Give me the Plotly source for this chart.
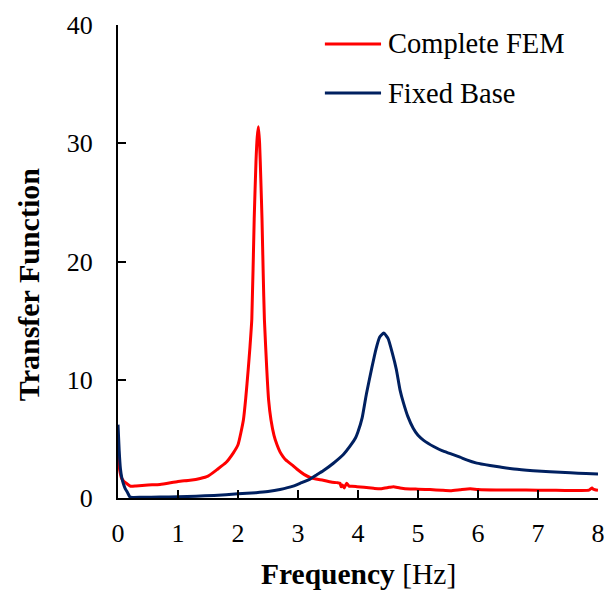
import plotly.graph_objects as go

# ---- data ----
series_names = ["Complete FEM", "Fixed Base"]
series_colors = ["#FF0000", "#002060"]

fem_freq = [0, 0.03, 0.06, 0.1, 0.15, 0.21, 0.3, 0.5, 0.7, 1.0, 1.2, 1.37, 1.5, 1.65, 1.8, 1.92,
            2.0, 2.09, 2.13, 2.17, 2.2, 2.23, 2.27, 2.3, 2.32, 2.34, 2.36, 2.38, 2.40, 2.42, 2.44,
            2.48, 2.51, 2.55, 2.6, 2.65, 2.70, 2.75, 2.8, 2.9, 2.98, 3.1, 3.2, 3.3, 3.42, 3.55, 3.65,
            3.70, 3.72, 3.74, 3.77, 3.81, 3.85, 3.9, 3.98, 4.1, 4.26, 4.37, 4.45, 4.52, 4.59,
            4.7, 4.87, 5.0, 5.2, 5.4, 5.54, 5.7, 5.87, 6.0, 6.3, 6.6, 7.0, 7.3, 7.6, 7.85, 7.9,
            7.92, 7.95, 8.0]
fem_tf = [3.5, 2.3, 1.67, 1.4, 1.2, 1.0, 1.02, 1.1, 1.15, 1.4, 1.5, 1.65, 1.85, 2.4, 3.0, 3.8,
          4.5, 6.6, 8.5, 10.85, 12.8, 15.1, 23.6, 28.5, 30.5, 31.4, 30.0, 27.0, 23.6, 19.0, 15.1,
          10.85, 8.3, 6.6, 5.3, 4.5, 3.9, 3.5, 3.2, 2.8, 2.45, 2.0, 1.75, 1.6, 1.5, 1.35, 1.3,
          1.25, 0.95, 1.1, 0.85, 1.25, 1.0, 1.0, 0.96, 0.9, 0.82, 0.78, 0.85, 0.9, 0.96,
          0.85, 0.76, 0.75, 0.72, 0.65, 0.62, 0.7, 0.78, 0.72, 0.68, 0.68, 0.66, 0.65, 0.64, 0.66, 0.85,
          0.75, 0.7, 0.65]

fb_freq = [0, 0.02, 0.04, 0.06, 0.09, 0.12, 0.16, 0.2, 0.25, 0.4, 0.7, 1.0, 1.3, 1.6, 2.0, 2.3,
           2.5, 2.7, 2.92, 3.04, 3.2, 3.31, 3.42, 3.59, 3.76, 3.87, 3.96, 4.0, 4.07, 4.14, 4.23,
           4.3, 4.36, 4.43, 4.5, 4.57, 4.64, 4.70, 4.76, 4.83, 4.92, 5.0, 5.1, 5.26, 5.4, 5.54,
           5.7, 5.81, 5.98, 6.2, 6.37, 6.6, 6.92, 7.2, 7.54, 7.8, 8.0]
fb_tf = [6.2, 4.0, 2.5, 1.8, 1.2, 0.8, 0.45, 0.08, 0.05, 0.06, 0.08, 0.1, 0.15, 0.22, 0.35, 0.45,
         0.55, 0.72, 1.0, 1.25, 1.6, 1.95, 2.3, 2.94, 3.7, 4.4, 5.1, 5.6, 6.8, 8.8, 11.0,
         12.6, 13.6, 13.95, 13.5, 12.3, 10.85, 9.15, 8.0, 6.9, 5.9, 5.3, 4.85, 4.35, 4.0, 3.75,
         3.45, 3.22, 2.95, 2.75, 2.62, 2.45, 2.31, 2.22, 2.13, 2.07, 2.03]

x_title_bold = "Frequency"
x_title_unit = "[Hz]"
y_title = "Transfer Function"

FONT = "Liberation Serif, Times New Roman, serif"

fig = go.Figure()
for name, color, xs, ys in [(series_names[0], series_colors[0], fem_freq, fem_tf),
                            (series_names[1], series_colors[1], fb_freq, fb_tf)]:
    fig.add_trace(go.Scatter(x=xs, y=ys, mode="lines", name=name,
                             line=dict(color=color, width=3, shape="spline", smoothing=0.5),
                             showlegend=False))

axis_common = dict(showgrid=False, zeroline=False, showline=True, linecolor="black",
                   linewidth=2, ticks="inside", ticklen=8, tickwidth=2, tickcolor="black",
                   tickfont=dict(family=FONT, size=26, color="black"))

fig.update_xaxes(range=[0, 8], dtick=1, tick0=0, ticklabelstandoff=11, **axis_common)
fig.update_yaxes(range=[0, 40], dtick=10, tick0=0, ticklabelstandoff=18, **axis_common)

# manual legend (long line samples)
legend_rows = [0.960, 0.856]
for name, color, yy in zip(series_names, series_colors, legend_rows):
    fig.add_shape(type="line", xref="paper", yref="paper", x0=0.431, x1=0.548, y0=yy, y1=yy,
                  line=dict(color=color, width=3))
    fig.add_annotation(xref="paper", yref="paper", x=0.558, y=yy, text=name, showarrow=False,
                       xanchor="left", yanchor="middle",
                       font=dict(family=FONT, size=28.5, color="black"))

# axis titles
fig.add_annotation(xref="paper", yref="paper", x=0.5, y=-0.16, xanchor="center", yanchor="middle",
                   text=f"<b>{x_title_bold}</b> {x_title_unit}", showarrow=False,
                   font=dict(family=FONT, size=29.5, color="black"))
fig.add_annotation(xref="paper", yref="paper", x=-0.1875, y=0.45, xanchor="center", yanchor="middle",
                   text=f"<b>{y_title}</b>", textangle=-90, showarrow=False,
                   font=dict(family=FONT, size=30, color="black"))

fig.update_layout(width=616, height=590, plot_bgcolor="white", paper_bgcolor="white",
                  margin=dict(l=118, r=18, t=25, b=92), showlegend=False)

fig.write_html("out.html")
